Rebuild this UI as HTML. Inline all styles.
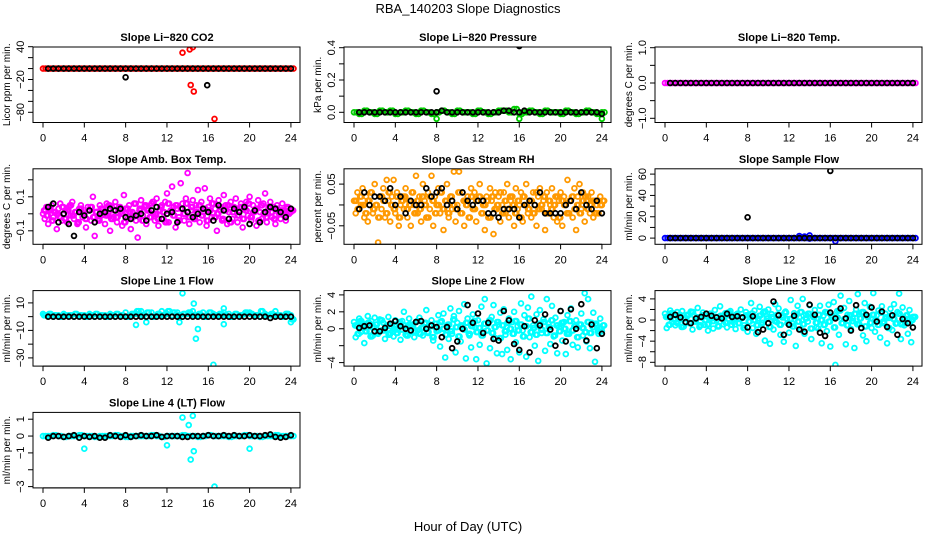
<!DOCTYPE html>
<html><head><meta charset="utf-8">
<style>
html,body{margin:0;padding:0;background:#fff;}
svg{display:block;font-family:"Liberation Sans",Arial,sans-serif;}
</style></head>
<body>
<svg id="chart" width="936" height="540" viewBox="0 0 936 540">
<text x="468" y="13" text-anchor="middle" font-size="13">RBA_140203  Slope Diagnostics</text>
<text x="468" y="531" text-anchor="middle" font-size="13">Hour of Day (UTC)</text>
</svg>
<script>
// ---------- data ----------
const xTicks = [0,4,8,12,16,20,24];

const co2Base = [0,0,0,0,0,0,0,0,0,0,0,0,0,0,0,0,0,0,0,0,0,0,0,0,0,0,0,0,0,0,0,0,0,0,0,0,0,0,0,0,0,0,0,0,0,0,0,0,0];
const co2OutH = [13.5,14.2,14.5,14.3,14.6,16.6];
const co2OutV = [29,35,39,-30,-42,-92];
const co2Black = [0,0,0,0,0,0,0,0,0,0,0,0,0,0,0,0,0,0,0,0,0,0,0,0,0,0,0,0,0,0,0,0,0,0,0,0,0,0,0,0,0,0,0,0,0,0,0,0];
const co2BlackOutH = [8,15.9];
const co2BlackOutV = [-16,-30.5];

const presBase = [0.00,-0.01,0.01,0.00,-0.01,0.01,0.00,0.01,-0.01,0.00,0.01,0.00,-0.01,0.01,0.00,-0.01,0.00,0.01,0.00,-0.01,0.01,0.00,0.00,-0.01,0.01,0.00,-0.01,0.00,0.01,0.01,0.00,0.02,-0.01,0.00,0.01,0.00,-0.01,0.01,0.00,0.00,-0.01,0.01,0.00,-0.01,0.00,0.01,0.00,-0.01,0.00];
const presOutH = [8,16,24];
const presOutV = [-0.04,-0.04,-0.04];
const presBlack = [0,0,0,0,0,0,0,0,0,0,0,0,0,0,0,0,0.01,0,0,0,0,0,0,0,0,0,0,0,0.01,0.01,0,0,0.01,0,0,0,0,0,0,0,0,0,0,0,0,0,0,-0.01];
const presBlackOutH = [8,16];
const presBlackOutV = [0.13,0.41];

const tempBase = [0,0,0,0,0,0,0,0,0,0,0,0,0,0,0,0,0,0,0,0,0,0,0,0,0,0,0,0,0,0,0,0,0,0,0,0,0,0,0,0,0,0,0,0,0,0,0,0,0];
const tempBlack = [0,0,0,0,0,0,0,0,0,0,0,0,0,0,0,0,0,0,0,0,0,0,0,0,0,0,0,0,0,0,0,0,0,0,0,0,0,0,0,0,0,0,0,0,0,0,0,0];

const ambWide = [0.00,-0.03,0.04,-0.06,0.02,0.05,-0.02,0.01,-0.09,0.03,
0.06,-0.04,0.00,0.02,-0.05,0.04,-0.01,0.07,-0.03,0.01,
-0.06,0.03,0.05,-0.02,0.00,-0.08,0.04,0.02,-0.04,0.10,
-0.13,0.01,-0.03,0.05,-0.01,0.03,-0.06,0.06,0.00,-0.10,
0.04,-0.02,0.07,-0.05,0.02,0.01,-0.07,0.11,0.03,-0.03,
0.05,-0.09,0.01,0.06,-0.04,-0.14,0.02,0.08,-0.01,0.04,
-0.06,0.03,-0.02,0.06,0.00,-0.04,0.09,-0.07,0.02,0.05,
-0.03,0.07,0.12,-0.05,0.01,0.16,0.04,-0.08,0.03,-0.02,
0.18,0.06,-0.04,0.09,0.24,-0.06,0.02,0.08,-0.03,0.05,
0.14,-0.05,0.07,0.01,0.15,-0.07,0.04,0.09,-0.02,0.06,
0.03,-0.10,0.08,0.02,-0.04,0.11,0.05,-0.06,0.01,0.07,
-0.03,0.04,0.09,-0.05,0.02,0.06,-0.08,0.03,0.07,-0.01,
0.10,-0.04,0.05,0.02,-0.07,0.08,0.01,-0.03,0.06,0.12,
-0.05,0.03,0.07,-0.02,0.04,-0.06,0.05,0.01,-0.03,0.06,
0.02,-0.04,0.03,0.00,0.01];
const ambCore = [0.02,-0.01,0.03,-0.04,0.01,0.00,-0.02,0.04,-0.03,0.02,
0.05,-0.01,0.01,-0.05,0.03,0.00,-0.03,0.02,0.04,-0.02,
0.01,-0.04,0.03,0.00,-0.01,0.05,-0.03,0.02,-0.02,0.04,
0.00,-0.05,0.03,0.01,-0.02,0.06,-0.01,0.03,-0.04,0.05,
0.02,-0.02,0.07,0.00,-0.03,0.04,0.01,-0.05,0.06,0.02,
-0.01,0.05,-0.04,0.03,0.00,0.06,-0.02,0.04,-0.03,0.01,
0.05,-0.01,0.03,-0.04,0.02,0.06,-0.02,0.00,0.04,-0.03,
0.02,0.05,-0.05,0.01,0.03,-0.01,0.04,-0.03,0.02,0.06,
-0.02,0.01,0.03,-0.04,0.05,0.00,-0.02,0.04,0.01,-0.03,
0.03,0.00,0.02,-0.01,0.04,0.01,0.02];
const ambBlack = [0.04,0.06,-0.05,0.00,-0.06,-0.13,0.01,-0.01,0.02,-0.05,0.00,0.01,0.03,0.02,0.03,-0.02,-0.03,-0.01,0.00,-0.04,0.02,0.04,-0.03,0.00,0.01,-0.05,0.03,0.01,-0.02,0.00,0.03,0.01,-0.04,0.05,0.02,-0.03,0.03,0.01,0.04,-0.06,0.02,-0.05,0.01,0.04,0.03,0.01,-0.02,0.03];

const rhWide = [0.01,-0.02,0.03,-0.01,0.00,0.04,-0.03,0.02,-0.04,0.01,
0.03,-0.02,0.05,0.00,-0.09,0.02,-0.01,0.04,-0.03,0.06,
0.01,-0.04,0.02,0.06,-0.02,0.03,-0.05,0.00,0.02,-0.01,
0.04,-0.03,0.01,-0.05,0.03,0.00,0.07,-0.02,0.02,-0.04,
0.05,0.01,-0.03,0.03,-0.01,0.07,-0.05,0.02,0.00,0.04,
-0.02,0.03,-0.06,0.01,0.05,-0.03,0.02,-0.01,0.08,-0.04,
0.00,0.08,-0.02,0.03,-0.05,0.01,0.02,-0.03,0.04,-0.01,
0.03,-0.04,0.01,0.05,-0.02,0.00,-0.06,0.02,-0.03,0.04,
0.01,-0.07,0.03,-0.01,0.02,-0.04,0.00,0.03,-0.02,0.05,
-0.03,0.01,0.02,-0.05,0.04,-0.01,0.00,0.03,-0.04,0.02,
0.05,-0.02,0.01,-0.03,0.03,0.00,-0.05,0.02,0.04,-0.01,
0.01,-0.06,0.03,-0.02,0.00,0.04,-0.03,0.02,-0.04,0.01,
0.03,-0.05,0.02,0.00,0.06,-0.02,0.01,-0.03,0.04,-0.06,
0.02,0.05,-0.01,0.03,-0.04,0.01,0.02,-0.02,0.03,-0.03,
0.01,0.00,-0.02,0.02,0.00];
const rhCore = [0.01,-0.01,0.02,0.00,-0.02,0.01,0.03,-0.01,0.00,-0.03,
0.02,0.01,-0.02,0.03,0.00,-0.01,0.02,-0.03,0.01,0.02,
-0.01,0.00,0.03,-0.02,0.01,-0.01,0.02,0.00,-0.03,0.02,
0.01,-0.02,0.00,0.03,-0.01,0.01,-0.02,0.02,0.00,-0.01,
0.03,-0.02,0.01,0.00,-0.03,0.02,-0.01,0.01,0.02,-0.02,
0.00,0.01,-0.03,0.02,-0.01,0.00,0.03,-0.02,0.01,-0.01,
0.02,0.00,-0.02,0.01,-0.03,0.02,0.00,-0.01,0.01,-0.02,
0.03,-0.01,0.00,0.02,-0.02,0.01,-0.01,0.00,0.02,-0.03,
0.01,0.00,-0.02,0.01,0.02,-0.01,0.00,-0.02,0.01,0.02,
-0.01,0.00,0.01,-0.02,0.01,0.00,0.01];
const rhBlack = [-0.01,0.03,0.00,0.02,0.02,0.01,0.04,0.00,0.02,-0.02,0.01,0.00,0.00,0.04,0.02,0.03,0.04,0.00,0.01,-0.01,0.03,0.01,0.00,0.01,0.01,-0.02,-0.02,-0.03,-0.01,-0.01,-0.01,-0.03,0.00,0.01,0.00,0.03,-0.02,-0.02,-0.02,-0.02,0.00,0.01,-0.01,0.03,0.00,-0.01,0.01,-0.02];

const flowBase = [0,0,0,0,0,0,0,0,0,0,0,0,0,0,0,0,0,0,0,0,0,0,0,0,0,0,0,0,0,0,0,0,0,0,0,0,0,0,0,0,0,0,0,0,0,0,0,0,0];
const flowOutH = [13,13.5,14,14,16.5];
const flowOutV = [2,1.5,2.5,-0.5,-3];
const flowBlack = [0,0,0,0,0,0,0,0,0,0,0,0,0,0,0,0,0,0,0,0,0,0,0,0,0,0,0,0,0,0,0,0,0,0,0,0,0,0,0,0,0,0,0,0,0,0,0,0];
const flowBlackOutH = [8,16];
const flowBlackOutV = [19.5,63];

const l1Base = [2,1,0,1,2,1,0,1,1,2,0,1,1,2,0,1,3,1,2,4,0,3,1,4,2,1,3,0,2,4,1,3,0,2,1,3,2,0,1,2,3,1,0,2,1,4,1,2,1];
const l1Base2 = [1,2,1,0,1,1,2,1,0,1,2,1,0,1,2,1,0,2,4,1,3,0,2,1,4,3,1,2,3,1,2,0,3,1,2,1,0,2,1,3,2,1,4,1,2,1,0,2,-2];
const l1OutH = [13.5,14.6,14.8,16.5,13.2,17.5,17.5,15,9,10,24];
const l1OutV = [17,9.5,-16,-35,-4,6,-5.5,-9,-6,-4,-4];
const l1Black = [0,0,0,0,0,0,0,0,0,0,0,0,0,0,0,0,0,0,0,0,0,0,0,0,0,0,0,0,0,0,0,0,0,0,0,0,0,0,0,0,0,0,0,-1,0,0,0,0];

const l2Wide = [0.8,-1.0,0.3,1.2,-0.4,0.6,-1.7,0.2,1.5,-0.3,
0.9,-0.8,1.3,0.0,-0.6,1.1,-0.2,0.7,-1.2,0.4,
1.4,-0.5,0.2,-0.9,1.0,-0.1,0.6,-1.3,0.9,2.0,
-0.7,0.3,1.2,-0.4,0.5,-1.0,0.8,-0.2,1.3,0.1,
-0.8,0.6,2.2,-0.5,0.4,1.0,-1.4,0.2,-0.3,1.6,
-2.1,0.9,1.8,-3.4,0.4,-1.2,2.4,-0.6,1.5,-2.8,
0.7,2.1,-1.5,0.3,2.9,-3.5,1.2,-0.8,-2.2,1.7,
0.2,-3.6,1.0,-1.9,2.6,-0.4,3.5,-4.1,0.6,-2.3,
1.4,2.8,-1.1,-2.9,0.5,1.9,-3.0,2.3,-0.7,-2.5,
1.2,-3.6,0.8,2.0,-1.6,0.3,-2.8,3.0,-0.2,1.6,
-3.3,2.5,-1.0,3.8,0.4,-2.0,1.7,-3.8,2.2,-0.5,
1.1,-2.6,3.5,0.6,-1.8,2.7,-0.9,1.3,-2.9,0.2,
2.1,-1.4,0.8,-3.0,1.6,-0.6,2.4,-1.9,0.3,1.0,
-2.2,0.5,1.8,-0.8,4.2,-1.5,3.5,-2.3,0.7,1.9,
-3.9,0.4,-0.6,1.2,-0.3];
const l2Core = [0.4,-0.6,0.9,0.1,-0.3,0.7,-0.9,0.2,0.5,-0.4,
1.0,-0.2,0.3,-0.7,0.6,0.0,-0.5,0.8,-0.1,0.4,
-0.8,0.5,0.2,-0.3,0.9,-0.6,0.1,0.7,-0.4,0.3,
-1.0,0.6,-0.2,0.8,0.0,-0.7,0.5,-0.3,1.1,0.2,
-0.9,0.4,-0.1,0.7,-0.6,0.3,0.9,-0.4,0.1,-0.8,
0.6,-0.2,1.0,-0.5,0.2,0.8,-1.1,0.4,-0.3,0.7,
0.0,-0.6,0.9,-0.2,0.5,-0.9,0.3,1.2,-0.4,0.1,
-0.7,0.6,-0.1,0.8,-0.5,0.2,1.0,-0.8,0.4,-0.3,
0.7,0.0,-0.6,0.9,-0.2,0.3,-1.0,0.5,0.1,-0.4,
0.8,-0.5,0.2,0.6,-0.3,0.0,0.4];
const l2Black = [0.1,0.3,0.4,-0.3,-0.3,0.1,0.6,0.9,0.3,0.0,-0.2,0.8,0.9,0.0,0.4,0.2,-1.0,0.2,-2.3,-1.5,0.0,2.8,0.7,1.8,-0.5,0.7,-1.2,-1.4,2.1,1.0,-1.8,-2.5,0.3,-2.8,1.0,0.4,1.7,-0.1,-2.0,2.1,-1.5,2.3,0.0,2.9,-1.4,0.5,-2.3,-0.6];

const l3Wide = [1.2,-1.5,0.6,1.8,-0.4,0.9,-1.0,1.5,0.2,-0.7,
1.7,-1.2,0.4,1.0,-0.5,1.6,-1.8,0.8,0.1,2.3,
-1.3,0.5,1.4,-0.9,0.7,-2.0,1.1,0.3,-1.6,1.9,
0.0,-1.1,2.6,0.6,-0.8,1.3,-1.4,0.9,1.7,-0.3,
0.5,-1.7,1.2,-0.6,2.0,0.4,-1.0,1.5,-2.2,0.8,
3.2,-1.5,1.8,-2.6,0.3,2.5,-0.9,1.4,-3.9,0.7,
2.0,-4.5,1.1,-1.8,3.0,-0.4,2.2,-2.8,0.9,-4.1,
1.6,0.2,-2.4,3.8,-0.7,1.3,-4.9,2.7,0.5,-1.9,
4.0,-2.6,1.0,-0.3,2.8,-3.6,0.6,1.9,-1.4,-1.6,
2.7,-4.4,0.8,1.5,-2.1,2.9,-5.0,0.4,3.4,-8.5,
1.7,-2.8,4.6,-0.5,2.3,-4.6,1.0,3.6,-1.7,0.3,
-5.3,2.0,4.9,-0.8,1.4,-2.9,3.2,-4.0,0.7,2.5,
-1.5,5.1,-2.2,0.9,1.8,-3.3,2.6,-0.6,1.2,-4.4,
0.4,2.1,-1.9,3.0,-0.7,1.5,5.0,-3.6,2.4,-1.0,
0.8,-2.6,1.9,-4.2,0.6];
const l3Core = [0.6,-0.9,1.3,0.1,-0.5,1.0,-1.3,0.3,0.8,-0.6,
1.5,-0.3,0.5,-1.0,0.9,0.0,-0.8,1.2,-0.2,0.6,
-1.2,0.8,0.3,-0.5,1.4,-0.9,0.2,1.0,-0.6,0.5,
-1.5,0.9,-0.3,1.2,0.0,-1.0,0.8,-0.5,1.6,0.3,
-1.3,0.6,-0.2,1.0,-0.9,0.5,1.4,-0.6,0.2,-1.2,
0.9,-0.3,1.5,-0.8,0.3,1.2,-1.6,0.6,-0.5,1.0,
0.0,-0.9,1.4,-0.3,0.8,-1.4,0.5,1.8,-0.6,0.2,
-1.0,0.9,-0.2,1.2,-0.8,0.3,1.5,-1.2,0.6,-0.5,
1.0,0.0,-0.9,1.4,-0.3,0.5,-1.5,0.8,0.2,-0.6,
1.2,-0.8,0.3,0.9,-0.5,0.0,0.6];
const l3Black = [0.6,1.0,0.5,-0.4,-0.6,0.3,0.6,1.2,0.8,0.5,0.3,1.2,0.6,0.7,0.5,-1.4,0.7,-2.3,-1.8,-0.6,3.5,0.9,-2.8,-0.9,0.8,-1.8,-2.2,2.9,1.0,-2.4,-3.0,1.4,0.3,2.2,0.3,-2.0,2.8,-1.5,1.0,2.4,-0.3,1.6,-1.3,0.9,-2.8,0.2,-0.6,-1.4];

const l4Base = [0,0,0.05,0,-0.05,0,0,0.05,0,0,-0.05,0,0,0,0.05,0,-0.05,0,0,0,0,0.05,0,-0.05,0,0,0,0.05,0,0,-0.05,0,0.05,0,0,0,-0.05,0,0,0.05,0,0,-0.05,0,0,0.05,0,0,0];
const l4OutH = [4,12,13.5,14.1,14.5,14.3,14.6,16.6,20];
const l4OutV = [-0.75,-0.55,1.1,0.65,1.2,-1.4,-0.9,-3,-0.75];
const l4Black = [-0.1,0,0,-0.05,0,0.05,-0.1,0,-0.05,0,-0.1,-0.1,0.05,0,-0.05,0.05,-0.05,0,0.05,0,0,0.05,-0.05,0,0,0,-0.05,-0.05,0,0,0,0.05,0,0,0.05,0,0.05,0,0,0.05,0,0,0.05,0.1,-0.05,-0.1,-0.05,0.05];

// tick values / labels
const p1Ticks=[40,20,0,-20,-40,-60,-80], p1Labels=["40","","","\u221220","","","\u221280"];
const p2Ticks=[0.4,0.3,0.2,0.1,0], p2Labels=["0.4","","0.2","","0.0"];
const p3Ticks=[1,0.5,0,-0.5,-1], p3Labels=["1.0","","0.0","","\u22121.0"];
const p4Ticks=[0.2,0.1,0,-0.1], p4Labels=["","0.1","","\u22120.1"];
const p5Ticks=[0.05,0,-0.05], p5Labels=["0.05","","\u22120.05"];
const p6Ticks=[60,50,40,30,20,10,0], p6Labels=["60","","40","","20","","0"];
const p7Ticks=[10,0,-10,-20,-30], p7Labels=["10","","\u221210","","\u221230"];
const p8Ticks=[4,2,0,-2,-4], p8Labels=["4","2","0","","\u22124"];
const p9Ticks=[4,2,0,-2,-4,-6,-8], p9Labels=["4","","0","","\u22124","","\u22128"];
const p10Ticks=[1,0,-1,-2,-3], p10Labels=["1","0","\u22121","","\u22123"];

// ---------- layout ----------
const svgNS="http://www.w3.org/2000/svg";
const svg=document.getElementById('chart');
const PXH=10.33, BOXH=75.5;
function mk(tag,attrs,parent){const e=document.createElementNS(svgNS,tag);for(const k in attrs)e.setAttribute(k,attrs[k]);(parent||svg).appendChild(e);return e;}
function seq(vals,step,start){return vals.map((v,i)=>[start+i*step,v]);}
function pairs(hs,vs){return hs.map((h,i)=>[h,vs[i]]);}

const panels=[
 {slug:'co2',title:'Slope Li\u2212820 CO2',ylab:'Licor ppm per min.',c:0,r:0,ref:[40,-0.3,-80,65.3],ticks:p1Ticks,labels:p1Labels,
  series:[['#ff0000',seq(co2Base,0.5,0)],['#ff0000',seq(co2Base,0.5,0.25)],['#ff0000',pairs(co2OutH,co2OutV)],['#000',seq(co2Black,0.5,0.5)],['#000',pairs(co2BlackOutH,co2BlackOutV)]]},
 {slug:'pressure',title:'Slope Li\u2212820 Pressure',ylab:'kPa per min.',c:1,r:0,ref:[0.4,0.7,0,65.3],ticks:p2Ticks,labels:p2Labels,
  series:[['#00cc00',seq(presBase,0.5,0)],['#00cc00',seq(presBase,0.5,0.25)],['#00cc00',pairs(presOutH,presOutV)],['#000',seq(presBlack,0.5,0.5)],['#000',pairs(presBlackOutH,presBlackOutV)]]},
 {slug:'temp',title:'Slope Li\u2212820 Temp.',ylab:'degrees C per min.',c:2,r:0,ref:[1,0.7,-1,71.3],ticks:p3Ticks,labels:p3Labels,
  series:[['#ff00ff',seq(tempBase,0.5,0)],['#ff00ff',seq(tempBase,0.5,0.25)],['#000',seq(tempBlack,0.5,0.5)]]},
 {slug:'amb-box-temp',title:'Slope Amb. Box Temp.',ylab:'degrees C per min.',c:0,r:1,ref:[0.1,28,-0.1,62],ticks:p4Ticks,labels:p4Labels,
  series:[['#ff00ff',seq(ambWide,1/6,0)],['#ff00ff',seq(ambCore,0.25,0.1)],['#ff00ff',seq(ambCore,0.25,0.22)],['#000',seq(ambBlack,0.5,0.5)]]},
 {slug:'gas-rh',title:'Slope Gas Stream RH',ylab:'percent per min.',c:1,r:1,ref:[0.05,15.3,-0.05,57],ticks:p5Ticks,labels:p5Labels,
  series:[['#ff9900',seq(rhWide,1/6,0)],['#ff9900',seq(rhCore,0.25,0.1)],['#ff9900',seq(rhCore,0.25,0.22)],['#000',seq(rhBlack,0.5,0.5)]]},
 {slug:'sample-flow',title:'Slope Sample Flow',ylab:'ml/min per min.',c:2,r:1,ref:[60,5.3,0,69.3],ticks:p6Ticks,labels:p6Labels,
  series:[['#0000ff',seq(flowBase,0.5,0)],['#0000ff',seq(flowBase,0.5,0.25)],['#0000ff',pairs(flowOutH,flowOutV)],['#000',seq(flowBlack,0.5,0.5)],['#000',pairs(flowBlackOutH,flowBlackOutV)]]},
 {slug:'line1-flow',title:'Slope Line 1 Flow',ylab:'ml/min per min.',c:0,r:2,ref:[10,12.3,-30,67.3],ticks:p7Ticks,labels:p7Labels,
  series:[['#00ffff',seq(l1Base,0.5,0)],['#00ffff',seq(l1Base2,0.5,0.25)],['#00ffff',seq(l1Base2,0.5,0.1)],['#00ffff',pairs(l1OutH,l1OutV)],['#000',seq(l1Black,0.5,0.5)]]},
 {slug:'line2-flow',title:'Slope Line 2 Flow',ylab:'ml/min per min.',c:1,r:2,ref:[4,4.3,-4,72],ticks:p8Ticks,labels:p8Labels,
  series:[['#00ffff',seq(l2Wide,1/6,0)],['#00ffff',seq(l2Core,0.25,0.1)],['#00ffff',seq(l2Core,0.25,0.22)],['#000',seq(l2Black,0.5,0.5)]]},
 {slug:'line3-flow',title:'Slope Line 3 Flow',ylab:'ml/min per min.',c:2,r:2,ref:[4,8.3,-8,71.7],ticks:p9Ticks,labels:p9Labels,
  series:[['#00ffff',seq(l3Wide,1/6,0)],['#00ffff',seq(l3Core,0.25,0.1)],['#00ffff',seq(l3Core,0.25,0.22)],['#000',seq(l3Black,0.5,0.5)]]},
 {slug:'line4-flow',title:'Slope Line 4 (LT) Flow',ylab:'ml/min per min.',c:0,r:3,ref:[1,6.8,-3,74.2],ticks:p10Ticks,labels:p10Labels,
  series:[['#00ffff',seq(l4Base,0.5,0)],['#00ffff',seq(l4Base,0.5,0.25)],['#00ffff',pairs(l4OutH,l4OutV)],['#000',seq(l4Black,0.5,0.5)]]}
];

panels.forEach(p=>{
  const x0=43+p.c*311, top=47+p.r*121.8, left=x0-10, right=x0+257, bottom=top+BOXH;
  const xs=h=>x0+h*PXH;
  const k=(p.ref[3]-p.ref[1])/(p.ref[2]-p.ref[0]);
  const ys=v=>top+p.ref[1]+(v-p.ref[0])*k;
  const g=mk('g',{});
  
  
  const t=mk('text',{x:x0+124,y:top-6,'text-anchor':'middle','font-size':'11','font-weight':'bold'},g);
  t.textContent=p.title;
  
  
  const cid='clip-'+p.slug;
  const cp=mk('clipPath',{id:cid},g); mk('rect',{x:left,y:top,width:right-left,height:BOXH},cp);
  const pts=mk('g',{'clip-path':'url(#'+cid+')',fill:'none','stroke-width':'1.8'},g);
  
  
  p.series.forEach(s=>{
    s[1].forEach(d=>{
      const c=mk('circle',{cx:xs(d[0]).toFixed(1),cy:ys(d[1]).toFixed(1),r:'2.4',stroke:s[0]},pts);
      
      
    });
  });
  const box=mk('rect',{x:left,y:top,width:right-left,height:BOXH,fill:'none',stroke:'#000','stroke-width':'1'},g);
  
  
  xTicks.forEach(h=>{
    mk('line',{x1:xs(h),x2:xs(h),y1:bottom,y2:bottom+5,stroke:'#000'},g);
    const lt=mk('text',{x:xs(h),y:bottom+19,'text-anchor':'middle','font-size':'11'},g);
    lt.textContent=h;
    
    
  });
  mk('line',{x1:xs(0),x2:xs(24),y1:bottom,y2:bottom,stroke:'#000'},g);
  p.ticks.forEach((v,i)=>{
    const y=ys(v);
    mk('line',{x1:left-5,x2:left,y1:y,y2:y,stroke:'#000'},g);
    if(p.labels[i]){
      const yt=mk('text',{x:0,y:0,'text-anchor':'middle','font-size':'11',transform:'translate('+(left-9)+','+y.toFixed(1)+') rotate(-90)'},g);
      yt.textContent=p.labels[i];
      
      
    }
  });
  const yl=mk('text',{x:0,y:0,'text-anchor':'middle','font-size':'10',transform:'translate('+(left-23)+','+(top+BOXH/2)+') rotate(-90)'},g);
  yl.textContent=p.ylab;
  
  
});
</script>
</body></html>
